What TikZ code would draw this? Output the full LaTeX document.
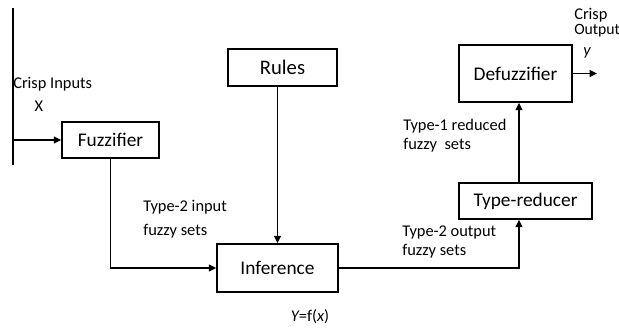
\documentclass[tikz,border=0pt]{standalone}
\usepackage{fontspec}
\setmainfont{Carlito}
\usetikzlibrary{arrows.meta}
\begin{document}
\begin{tikzpicture}[x=0.75pt,y=-0.75pt,
  box/.style={draw,line width=1.2pt,inner sep=0pt,font=\fontsize{14.5}{17}\selectfont},
  lbl/.style={anchor=base west,inner sep=0pt,font=\fontsize{12.3}{14}\selectfont},
  conn/.style={line width=1.2pt},
  arr/.style={conn,-{Triangle[length=5.5pt,width=5pt]}}]
\useasboundingbox (0,0) rectangle (619,328);
\node[box,minimum width=72.75pt,minimum height=27pt] (fuzz) at (110.5,140) {Fuzzifier};
\node[box,minimum width=81.75pt,minimum height=27.75pt,font=\fontsize{15.5}{17}\selectfont] (rules) at (282.5,67.5) {Rules};
\node[box,minimum width=90.75pt,minimum height=36pt] (inf) at (277.5,268) {Inference};
\node[box,minimum width=99.75pt,minimum height=27pt] (tr) at (525.5,201) {Type-reducer};
\node[box,minimum width=84.75pt,minimum height=42.75pt] (defuzz) at (515.5,73.5) {Defuzzifier};
% coordinates
\coordinate (intop) at (13,8);
\coordinate (inbot) at (13,165);
\coordinate (inmid) at (13,140);
\coordinate (vx) at (519,0);
\coordinate (out) at (597,73.5);
% connectors
\draw[conn] (intop) -- (inbot);
\draw[arr] (inmid) -- (fuzz.west);
\draw[arr] (fuzz.south) |- (inf.west);
\draw[arr] (rules.south -| inf.north) -- (inf.north);
\draw[arr] (inf.east) -| (tr.south -| vx);
\draw[arr] (tr.north -| vx) -- (defuzz.south -| vx);
\draw[arr] (defuzz.east) -- (out);
% labels
\node[lbl] (ci) at (13,89) {Crisp Inputs};
\node[lbl,anchor=base] (cx) at (39,112) {X};
\node[lbl] (t2i) at (143,212) {Type-2 input};
\node[lbl] (t2i2) at (143,236) {fuzzy sets};
\node[lbl] (t2o) at (402,237) {Type-2 output};
\node[lbl] (t2o2) at (402,256) {fuzzy sets};
\node[lbl] (t1) at (403,131) {Type-1 reduced};
\node[lbl] (t12) at (403,150) {fuzzy\ \ sets};
\node[lbl] (co) at (574,20) {Crisp};
\node[lbl,font=\fontsize{11.8}{14}\selectfont] (co2) at (574,35) {Output};
\node[lbl] (coy) at (583,56) {\itshape y};
\node[lbl,anchor=base] (yf) at (310,322) {\itshape Y\upshape=f(\itshape x\upshape)};
\end{tikzpicture}
\end{document}
